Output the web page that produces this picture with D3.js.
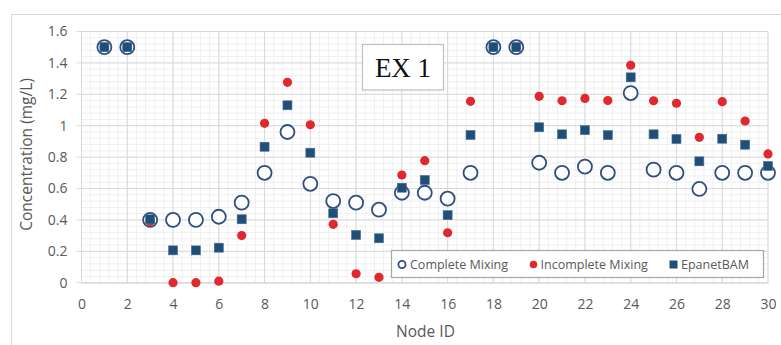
<!DOCTYPE html>
<html>
<head>
<meta charset="utf-8">
<script src="https://cdn.jsdelivr.net/npm/d3@7"></script>
<style>
  body { margin: 0; background: #fff; }
  svg { display: block; }
</style>
</head>
<body>
<div id="graph"></div>
<script>
// node ids 1..30
const nodes = d3.range(1, 31)

const completeMixing = [1.5, 1.5, 0.40, 0.40, 0.40, 0.42, 0.51, 0.70, 0.96, 0.63,
  0.52, 0.51, 0.465, 0.573, 0.573, 0.535, 0.70, 1.5, 1.5, 0.764,
  0.70, 0.739, 0.70, 1.208, 0.72, 0.70, 0.597, 0.70, 0.70, 0.70]

const incompleteMixing = [1.5, 1.5, 0.39, 0.0, 0.0, 0.01, 0.30, 1.015, 1.276, 1.006,
  0.372, 0.057, 0.034, 0.686, 0.777, 0.318, 1.155, 1.5, 1.5, 1.187,
  1.159, 1.174, 1.16, 1.385, 1.159, 1.143, 0.926, 1.153, 1.03, 0.82]

const epanetBAM = [1.5, 1.5, 0.404, 0.206, 0.206, 0.223, 0.404, 0.866, 1.13, 0.828,
  0.442, 0.304, 0.283, 0.605, 0.654, 0.43, 0.941, 1.5, 1.5, 0.99,
  0.945, 0.972, 0.94, 1.308, 0.945, 0.915, 0.773, 0.917, 0.879, 0.743]

const xTicks = d3.range(0, 31, 2)
const yTicks = [0, 0.2, 0.4, 0.6, 0.8, 1, 1.2, 1.4, 1.6]
const seriesNames = ['Complete Mixing', 'Incomplete Mixing', 'EpanetBAM']

const W = 781, H = 345
const margin = {top: 31.5, right: 13, bottom: 62.3, left: 81.5}
const width = W - margin.left - margin.right
const height = H - margin.top - margin.bottom

const blue = '#2F4F80', square = '#1F4E79', red = '#E0282E', gray = '#595959'
const font = "'Open Sans', sans-serif"

const root = d3.select('#graph').append('svg')
  .attr('width', W).attr('height', H)

// outer chart frame
root.append('rect')
  .attr('x', 11.5).attr('y', 14.5)
  .attr('width', W).attr('height', H)
  .attr('fill', 'none').attr('stroke', '#D9D9D9')

const svg = root.append('g')
  .attr('transform', `translate(${margin.left},${margin.top})`)

const x = d3.scaleLinear().domain([0, 30]).range([0, width])
const y = d3.scaleLinear().domain([0, 1.6]).range([height, 0])

// minor grid
const grid = svg.append('g')
grid.selectAll('.mx').data(d3.range(0, 30.01, 0.4)).enter().append('line')
  .attr('x1', d => x(d)).attr('x2', d => x(d))
  .attr('y1', 0).attr('y2', height)
  .attr('stroke', '#EFEFEF')
grid.selectAll('.my').data(d3.range(0, 1.601, 0.04)).enter().append('line')
  .attr('y1', d => y(d)).attr('y2', d => y(d))
  .attr('x1', 0).attr('x2', width)
  .attr('stroke', '#EFEFEF')

// major grid
grid.selectAll('.gx').data(xTicks).enter().append('line')
  .attr('x1', d => x(d)).attr('x2', d => x(d))
  .attr('y1', 0).attr('y2', height)
  .attr('stroke', '#D9D9D9')
grid.selectAll('.gy').data(yTicks).enter().append('line')
  .attr('y1', d => y(d)).attr('y2', d => y(d))
  .attr('x1', -5).attr('x2', width)
  .attr('stroke', '#D9D9D9')

// axes
const yAxis = svg.append('g')
  .call(d3.axisLeft(y).tickValues(yTicks).tickSize(0).tickPadding(14)
    .tickFormat(d => d3.format('~g')(d)))
yAxis.select('.domain').remove()
yAxis.selectAll('text').attr('fill', gray).style('font-family', font).style('font-size', '14px')

const xAxis = svg.append('g')
  .attr('transform', `translate(0,${height})`)
  .call(d3.axisBottom(x).tickValues(xTicks).tickSize(0).tickPadding(16))
xAxis.select('.domain').attr('stroke', '#D9D9D9')
xAxis.selectAll('text').attr('fill', gray).style('font-family', font).style('font-size', '14px')

// axis titles
svg.append('text')
  .attr('x', 425.5 - margin.left).attr('y', height + 54)
  .attr('text-anchor', 'middle')
  .attr('fill', gray).style('font-family', font).style('font-size', '15.5px')
  .text('Node ID')

svg.append('text')
  .attr('transform', 'rotate(-90)')
  .attr('x', -123).attr('y', -49.5)
  .attr('text-anchor', 'middle')
  .attr('fill', gray).style('font-family', font).style('font-size', '15.5px')
  .text('Concentration (mg/L)')

// points
const data = nodes.map((n, i) => ({
  node: n, cm: completeMixing[i], im: incompleteMixing[i], bam: epanetBAM[i]
}))

svg.selectAll('.cm').data(data).enter().append('circle')
  .attr('cx', d => x(d.node)).attr('cy', d => y(d.cm))
  .attr('r', 7).attr('fill', '#fff')
  .attr('stroke', blue).attr('stroke-width', 1.8)

svg.selectAll('.im').data(data).enter().append('circle')
  .attr('cx', d => x(d.node)).attr('cy', d => y(d.im))
  .attr('r', 4.6).attr('fill', red)

svg.selectAll('.bam').data(data).enter().append('rect')
  .attr('x', d => x(d.node) - 4.5).attr('y', d => y(d.bam) - 4.5)
  .attr('width', 9).attr('height', 9)
  .attr('fill', square).attr('stroke', '#4A6F96').attr('stroke-width', 0.6)

// EX 1 label
const ex = root.append('g')
ex.append('rect')
  .attr('x', 362.5).attr('y', 44.5).attr('width', 81).attr('height', 45.5)
  .attr('fill', '#fff').attr('stroke', '#BFBFBF').attr('stroke-width', 1.2)
ex.append('text')
  .attr('x', 403).attr('y', 77)
  .attr('text-anchor', 'middle')
  .style('font-family', "'Liberation Serif', serif").style('font-size', '27px')
  .attr('fill', '#111')
  .text('EX 1')

// legend
const lg = root.append('g')
lg.append('rect')
  .attr('x', 391.5).attr('y', 250.5).attr('width', 372).attr('height', 27)
  .attr('fill', '#fff').attr('stroke', '#A6A6A6').attr('stroke-width', 1.2)

const ly = 264.5
lg.append('circle').attr('cx', 402).attr('cy', ly).attr('r', 3.6)
  .attr('fill', '#fff').attr('stroke', blue).attr('stroke-width', 1.8)
lg.append('circle').attr('cx', 533.5).attr('cy', ly).attr('r', 3.8).attr('fill', red)
lg.append('rect').attr('x', 669.5).attr('y', ly - 4).attr('width', 8).attr('height', 8)
  .attr('fill', square)

const legendX = [410, 540.5, 681]
lg.selectAll('.lt').data(seriesNames).enter().append('text')
  .attr('x', (d, i) => legendX[i]).attr('y', ly + 4.5)
  .attr('fill', gray).style('font-family', font).style('font-size', '12.5px')
  .text(d => d)
</script>
</body>
</html>
